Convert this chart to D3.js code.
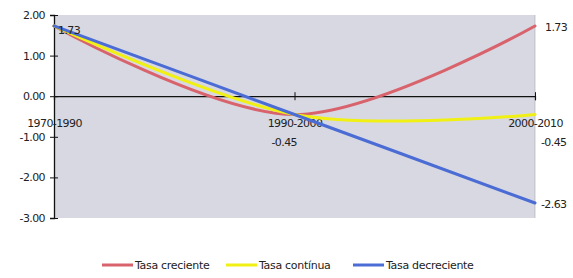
<!DOCTYPE html>
<html>
<head>
<meta charset="utf-8">
<script src="https://cdn.jsdelivr.net/npm/d3@7"></script>
<style>
  body { margin: 0; background: #fff; }
  text { font-family: "DejaVu Sans", sans-serif; fill: #222; }
</style>
</head>
<body>
<div id="chart"></div>
<script>
var categories = ["1970-1990", "1990-2000", "2000-2010"];
var tasaCreciente = [1.73, -0.45, 1.73];
var tasaContinua = [1.73, -0.45, -0.45];
var tasaDecreciente = [1.73, -0.45, -2.63];
var yTicks = [2, 1, 0, -1, -2, -3];
var seriesNames = ["Tasa creciente", "Tasa contínua", "Tasa decreciente"];
var seriesColors = ["#d9636c", "#f0f014", "#4a6cd4"];

function visualize() {
    var w = 573, h = 278;
    var left = 54, right = 535, top = 15, bottom = 218;

    var svg = d3.select("#chart").append("svg").attr("width", w).attr("height", h);

    var x = d3.scalePoint().domain(categories).range([left, right]);
    var y = d3.scaleLinear().domain([-3, 2]).range([bottom, top]);

    // plot area
    svg.append("rect")
        .attr("x", left).attr("y", top)
        .attr("width", right - left).attr("height", bottom - top)
        .style("fill", "#d7d8e1");
    svg.append("line")
        .attr("x1", right).attr("x2", right).attr("y1", top).attr("y2", bottom)
        .style("stroke", "#aaa").style("stroke-width", 0.6);

    // y axis
    var yAxis = d3.axisLeft(y).tickValues(yTicks).tickSizeOuter(0).tickSize(4).tickPadding(6)
        .tickFormat((d) => d.toFixed(2));
    var yg = svg.append("g").attr("transform", "translate(" + left + ",0)").call(yAxis);
    yg.selectAll(".tick line").attr("x1", 4).attr("x2", -4).style("stroke", "#111");
    yg.select(".domain").style("stroke", "#111").style("stroke-width", 1.3);
    yg.selectAll(".tick text").style("font-size", "11px").attr("x", -9).style("letter-spacing", "-0.6px");

    // series lines
    var line = d3.line()
        .x((d, i) => x(categories[i]))
        .y((d) => y(d))
        .curve(d3.curveCatmullRom.alpha(0));

    var allSeries = [tasaCreciente, tasaContinua, tasaDecreciente];

    // x axis (at zero)
    var xAxis = d3.axisBottom(x).tickSizeOuter(0).tickSize(4).tickPadding(19);
    var xg = svg.append("g").attr("transform", "translate(0," + y(0) + ")").call(xAxis);
    xg.selectAll(".tick line").attr("y1", -4).attr("y2", 4).style("stroke", "#111");
    xg.select(".domain").style("stroke", "#111").style("stroke-width", 1.2);
    xg.selectAll(".tick text").style("font-size", "11px").style("letter-spacing", "-0.6px");

    allSeries.forEach((s, k) => {
        svg.append("path")
            .datum(s)
            .attr("d", line)
            .style("fill", "none")
            .style("stroke", seriesColors[k])
            .style("stroke-width", 3)
            .style("stroke-linecap", "round");
    });

    // data labels
    var fmt = (v) => v.toFixed(2);
    svg.append("text").attr("x", x(categories[0]) + 4).attr("y", y(tasaCreciente[0]) + 8)
        .style("font-size", "11px").style("letter-spacing", "-0.6px").text(fmt(tasaCreciente[0]));
    svg.append("text").attr("x", x(categories[1]) - 23).attr("y", 146)
        .style("font-size", "11px").style("letter-spacing", "-0.6px").text(fmt(tasaDecreciente[1]));
    svg.append("text").attr("x", right + 10).attr("y", y(tasaCreciente[2]) + 5)
        .style("font-size", "11px").style("letter-spacing", "-0.6px").text(fmt(tasaCreciente[2]));
    svg.append("text").attr("x", right + 6).attr("y", 146)
        .style("font-size", "11px").style("letter-spacing", "-0.6px").text(fmt(tasaContinua[2]));
    svg.append("text").attr("x", right + 6).attr("y", y(tasaDecreciente[2]) + 5)
        .style("font-size", "11px").style("letter-spacing", "-0.6px").text(fmt(tasaDecreciente[2]));

    // legend
    var legendX = [102, 226, 353];
    seriesNames.forEach((name, k) => {
        var g = svg.append("g").attr("transform", "translate(" + legendX[k] + ",265)");
        g.append("line").attr("x1", 0).attr("x2", 31).attr("y1", 0).attr("y2", 0)
            .style("stroke", seriesColors[k]).style("stroke-width", 3);
        g.append("text").attr("x", 33).attr("y", 4).style("font-size", "11px")
            .style("letter-spacing", "-0.3px").text(name);
    });
}

document.addEventListener("DOMContentLoaded", () => {
    visualize();
});
</script>
</body>
</html>
